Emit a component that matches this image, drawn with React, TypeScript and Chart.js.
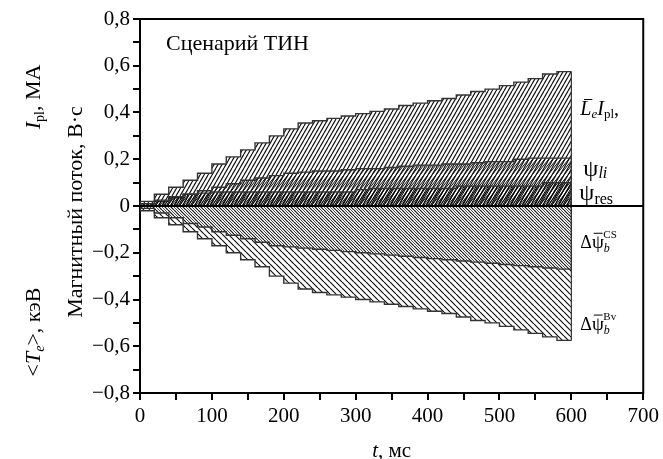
import React, { useEffect, useRef } from "react";
import { Chart, registerables } from "chart.js";

Chart.register(...registerables);

// time, ms
const times = [0, 20, 40, 60, 80, 100, 120, 140, 160, 180, 200, 220, 240, 260, 280, 300, 320, 340, 360, 380, 400, 420, 440, 460, 480, 500, 520, 540, 560, 580, 600];
// L_e * I_pl
const leIpl = [0, 0.02, 0.05, 0.08, 0.11, 0.14, 0.18, 0.21, 0.24, 0.27, 0.3, 0.33, 0.355, 0.365, 0.375, 0.385, 0.395, 0.405, 0.415, 0.43, 0.44, 0.45, 0.46, 0.475, 0.49, 0.5, 0.515, 0.53, 0.545, 0.565, 0.575];
// psi_li
const psiLi = [0, 0.01, 0.02, 0.035, 0.05, 0.065, 0.08, 0.095, 0.11, 0.12, 0.13, 0.14, 0.145, 0.15, 0.15, 0.155, 0.16, 0.16, 0.165, 0.17, 0.175, 0.175, 0.18, 0.18, 0.185, 0.19, 0.19, 0.2, 0.205, 0.205, 0.205];
// psi_res
const psiRes = [0, 0.01, 0.025, 0.04, 0.05, 0.055, 0.06, 0.06, 0.06, 0.06, 0.06, 0.06, 0.06, 0.06, 0.06, 0.06, 0.07, 0.075, 0.075, 0.075, 0.075, 0.075, 0.075, 0.085, 0.085, 0.085, 0.085, 0.085, 0.085, 0.1, 0.1];
// Delta psi_b^CS
const dPsiCS = [0, -0.01, -0.03, -0.05, -0.075, -0.09, -0.11, -0.125, -0.14, -0.155, -0.17, -0.175, -0.18, -0.185, -0.19, -0.195, -0.2, -0.205, -0.21, -0.215, -0.22, -0.225, -0.23, -0.235, -0.24, -0.245, -0.25, -0.255, -0.26, -0.265, -0.27];
// Delta psi_b^Bv
const dPsiBv = [0, -0.02, -0.05, -0.08, -0.11, -0.14, -0.17, -0.2, -0.23, -0.26, -0.3, -0.33, -0.355, -0.37, -0.38, -0.39, -0.4, -0.41, -0.42, -0.43, -0.44, -0.45, -0.46, -0.475, -0.49, -0.5, -0.515, -0.53, -0.545, -0.56, -0.575];

const FONT = "'Liberation Serif', 'Times New Roman', serif";

type Run = { t: string; size: number; italic?: boolean; dy?: number; bar?: boolean };

function runWidth(ctx: CanvasRenderingContext2D, runs: Run[]) {
  let w = 0;
  for (const r of runs) {
    ctx.font = `${r.italic ? "italic " : ""}${r.size}px ${FONT}`;
    w += ctx.measureText(r.t).width;
  }
  return w;
}

function drawRuns(ctx: CanvasRenderingContext2D, runs: Run[], x: number, y: number) {
  let cx = x;
  for (const r of runs) {
    ctx.font = `${r.italic ? "italic " : ""}${r.size}px ${FONT}`;
    const w = ctx.measureText(r.t).width;
    ctx.fillText(r.t, cx, y + (r.dy || 0));
    if (r.bar) {
      ctx.save();
      ctx.lineWidth = 1;
      ctx.beginPath();
      const by = y + (r.dy || 0) - r.size * 0.78;
      ctx.moveTo(cx + w * 0.15 + (r.italic ? 2 : 0), by);
      ctx.lineTo(cx + w * 0.9 + (r.italic ? 2 : 0), by);
      ctx.stroke();
      ctx.restore();
    }
    cx += w;
  }
}

function makeHatch(w: number, h: number, dir: "/" | "\\", lw: number, color: string, off = 0) {
  const c = document.createElement("canvas");
  c.width = w;
  c.height = h;
  const g = c.getContext("2d")!;
  g.strokeStyle = color;
  g.lineWidth = lw;
  g.beginPath();
  for (const k of [-1, 0, 1]) {
    const sx = k * w + off;
    if (dir === "/") {
      g.moveTo(sx, h);
      g.lineTo(sx + w, 0);
    } else {
      g.moveTo(sx, 0);
      g.lineTo(sx + w, h);
    }
  }
  g.stroke();
  return g.createPattern(c, "repeat")!;
}

const annotate = {
  id: "annotate",
  afterDatasetsDraw(chart: any) {
    const ctx: CanvasRenderingContext2D = chart.ctx;
    const ys = chart.scales.y;
    const y0 = ys.getPixelForValue(0);
    ctx.save();
    ctx.strokeStyle = "#333";
    ctx.lineWidth = 1.2;
    chart.data.datasets.forEach((_: any, i: number) => {
      const meta = chart.getDatasetMeta(i);
      const pts = meta.data;
      const last = pts[pts.length - 1];
      ctx.beginPath();
      ctx.moveTo(last.x, last.y);
      ctx.lineTo(last.x, y0);
      ctx.stroke();
    });
    ctx.strokeStyle = "#000";
    ctx.lineWidth = 2;
    ctx.beginPath();
    ctx.moveTo(chart.chartArea.left, y0);
    ctx.lineTo(chart.chartArea.right, y0);
    ctx.stroke();
    ctx.restore();
  },
  afterDraw(chart: any) {
    const ctx: CanvasRenderingContext2D = chart.ctx;
    const { left, right, top, bottom } = chart.chartArea;
    const xs = chart.scales.x;
    const ys = chart.scales.y;
    ctx.save();
    ctx.strokeStyle = "#000";
    ctx.lineWidth = 2;
    ctx.beginPath();
    ctx.moveTo(left - 1, top);
    ctx.lineTo(right, top);
    ctx.lineTo(right, bottom + 1);
    ctx.stroke();

    ctx.fillStyle = "#000";
    ctx.strokeStyle = "#000";
    ctx.textBaseline = "alphabetic";
    ctx.textAlign = "left";

    drawRuns(ctx, [{ t: "Сценарий ТИН", size: 22 }], left + 26, top + 31);

    const lx = xs.getPixelForValue(600) + 9;
    drawRuns(ctx, [
      { t: "L", size: 20, italic: true, bar: true },
      { t: "e", size: 13, italic: true, dy: 3 },
      { t: "I", size: 20, italic: true },
      { t: "pl", size: 13, dy: 3 },
      { t: ",", size: 20 },
    ], lx, ys.getPixelForValue(0.389));
    drawRuns(ctx, [
      { t: "ψ", size: 24 },
      { t: "li", size: 16, italic: true, dy: 2 },
    ], lx + 3, ys.getPixelForValue(0.128));
    drawRuns(ctx, [
      { t: "ψ", size: 24 },
      { t: "res", size: 16, dy: 4 },
    ], lx - 1, ys.getPixelForValue(0.026));
    drawRuns(ctx, [
      { t: "Δ", size: 18 },
      { t: "ψ", size: 19, bar: true },
      { t: "b", size: 12, italic: true, dy: 4 },
    ], lx, ys.getPixelForValue(-0.18));
    drawRuns(ctx, [{ t: "CS", size: 11 }], lx + 23, ys.getPixelForValue(-0.18) - 10);
    drawRuns(ctx, [
      { t: "Δ", size: 18 },
      { t: "ψ", size: 19, bar: true },
      { t: "b", size: 12, italic: true, dy: 4 },
    ], lx, ys.getPixelForValue(-0.53));
    drawRuns(ctx, [{ t: "Bv", size: 11 }], lx + 23, ys.getPixelForValue(-0.53) - 10);

    const xt: Run[] = [
      { t: "t", size: 21, italic: true },
      { t: ", мс", size: 21 },
    ];
    const xw = runWidth(ctx, xt);
    drawRuns(ctx, xt, (left + right) / 2 - xw / 2, 457);

    const vtext = (runs: Run[], cx: number, cy: number, size: number) => {
      const w = runWidth(ctx, runs);
      ctx.save();
      ctx.translate(cx, cy);
      ctx.rotate(-Math.PI / 2);
      drawRuns(ctx, runs, -w / 2, size * 0.33);
      ctx.restore();
    };
    vtext([
      { t: "I", size: 22, italic: true },
      { t: "pl", size: 14, dy: 4 },
      { t: ", МА", size: 22 },
    ], 33, 97, 22);
    vtext([
      { t: "<", size: 22 },
      { t: "T", size: 22, italic: true },
      { t: "e", size: 14, italic: true, dy: 4 },
      { t: ">, кэВ", size: 22 },
    ], 33, 332, 22);
    vtext([{ t: "Магнитный поток, В·с", size: 22 }], 75, 212, 22);
    ctx.restore();
  },
};

function fmtY(v: number) {
  const k = Math.round(v * 10);
  if (k % 2 !== 0) return "";
  if (k === 0) return "0";
  return (k < 0 ? "\u2212" : "") + (Math.abs(k) / 10).toFixed(1).replace(".", ",");
}

export default function App() {
  const ref = useRef<HTMLCanvasElement | null>(null);
  useEffect(() => {
    const canvas = ref.current!;
    const mk = (arr: number[]) => times.map((t, i) => ({ x: t, y: arr[i] }));
    const base = {
      stepped: "after" as const,
      fill: "origin",
      pointRadius: 0,
      borderColor: "#333",
      borderWidth: 1.4,
    };
    const chart = new Chart(canvas, {
      type: "line",
      data: {
        datasets: [
          { ...base, label: "psiRes", data: mk(psiRes), backgroundColor: makeHatch(3, 5, "/", 1.0, "#000") },
          { ...base, label: "psiLi", data: mk(psiLi), backgroundColor: makeHatch(4, 5, "/", 1.0, "#111") },
          { ...base, label: "LeIpl", data: mk(leIpl), backgroundColor: makeHatch(4, 7, "/", 1.2, "#111") },
          { ...base, label: "dPsiCS", data: mk(dPsiCS), backgroundColor: makeHatch(6, 6, "\\", 0.8, "#222", 3) },
          { ...base, label: "dPsiBv", data: mk(dPsiBv), backgroundColor: makeHatch(6, 6, "\\", 1.2, "#111") },
        ] as any,
      },
      options: {
        animation: false,
        responsive: true,
        maintainAspectRatio: false,
        layout: { padding: { left: 0, right: 16, top: 19, bottom: 0 } },
        plugins: { legend: { display: false }, tooltip: { enabled: false } },
        scales: {
          x: {
            type: "linear",
            min: 0,
            max: 700,
            afterFit: (s: any) => { s.height = 66; },
            ticks: {
              stepSize: 50,
              autoSkip: false,
              maxRotation: 0,
              padding: 4,
              color: "#000",
              font: { family: FONT, size: 21 },
              callback: (v: any) => (Math.round(v) % 100 === 0 ? String(Math.round(v)) : ""),
            },
            grid: { drawOnChartArea: false, drawTicks: true, tickLength: 7, color: "#000", lineWidth: 2 },
            border: { display: true, color: "#000", width: 2 },
          },
          y: {
            type: "linear",
            min: -0.8,
            max: 0.8,
            afterFit: (s: any) => { s.width = 140; },
            ticks: {
              stepSize: 0.1,
              autoSkip: false,
              padding: 3,
              color: "#000",
              font: { family: FONT, size: 21 },
              callback: (v: any) => fmtY(Number(v)),
            },
            grid: { drawOnChartArea: false, drawTicks: true, tickLength: 7, color: "#000", lineWidth: 2 },
            border: { display: true, color: "#000", width: 2 },
          },
        },
      } as any,
      plugins: [annotate],
    });
    return () => chart.destroy();
  }, []);
  return (
    <div style={{ position: "absolute", left: 0, top: 0, width: 663, height: 459, background: "#fff" }}>
      <canvas ref={ref} />
    </div>
  );
}
